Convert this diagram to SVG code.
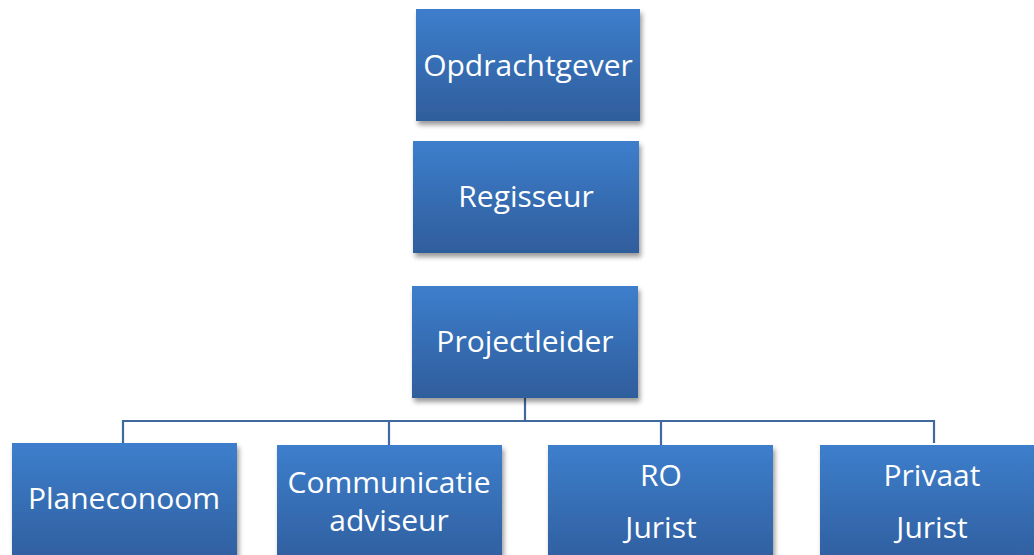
<svg xmlns="http://www.w3.org/2000/svg" width="1034" height="555" viewBox="0 0 1034 555">
<style>
.box{fill:url(#g);filter:url(#sh)}
.t{font-family:"Open Sans","Noto Sans","Liberation Sans",sans-serif;font-size:30px;fill:#ffffff;text-anchor:middle}
.c{fill:none;stroke:#41699e;stroke-width:2.2}
</style>
<defs>
<linearGradient id="g" x1="0" y1="0" x2="0" y2="1">
<stop offset="0" stop-color="#3d7ecc"/>
<stop offset="1" stop-color="#2f5d9c"/>
</linearGradient>
<filter id="sh" x="-10%" y="-10%" width="125%" height="130%">
<feDropShadow dx="2" dy="4" stdDeviation="2.5" flood-color="#000" flood-opacity="0.4"/>
</filter>
</defs>
<g id="connectors">
<path class="c" d="M525 398V421M123 443V421H934V443M389 421V445M661 421V445"/>
</g>
<g id="n1"><rect class="box" x="416" y="9" width="224" height="112"/><text class="t" x="528" y="76">Opdrachtgever</text></g>
<g id="n2"><rect class="box" x="413" y="141" width="226" height="112"/><text class="t" x="526" y="207">Regisseur</text></g>
<g id="n3"><rect class="box" x="412" y="286" width="226" height="112"/><text class="t" x="525" y="352">Projectleider</text></g>
<g id="n4"><rect class="box" x="12" y="443" width="225" height="125"/><text class="t" x="124" y="509">Planeconoom</text></g>
<g id="n5"><rect class="box" x="277" y="445" width="225" height="125"/><text class="t" x="389" y="493">Communicatie</text><text class="t" x="389" y="531">adviseur</text></g>
<g id="n6"><rect class="box" x="548" y="445" width="225" height="125"/><text class="t" x="661" y="486">RO</text><text class="t" x="661" y="538">Jurist</text></g>
<g id="n7"><rect class="box" x="820" y="445" width="225" height="125"/><text class="t" x="932" y="486">Privaat</text><text class="t" x="932" y="538">Jurist</text></g>
</svg>
